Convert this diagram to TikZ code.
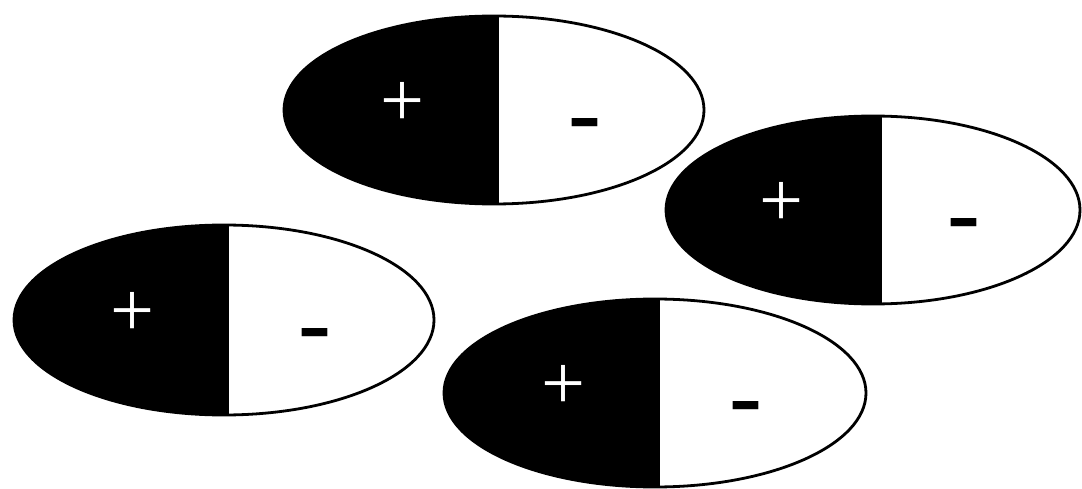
\documentclass[tikz,border=0pt]{standalone}
\usepackage{fontspec}
\newfontfamily\signfont{Liberation Sans}
\newfontfamily\plusfont{Liberation Serif}
\tikzset{
  rim/.style={draw=black, line width=2.8pt},
  plussign/.style={text=white, inner sep=0pt, font=\plusfont\fontsize{78}{78}\selectfont},
  minussign/.style={text=black, inner sep=0pt, font=\signfont\fontsize{105}{105}\selectfont},
}
\newcommand\halfegg[6]{%
  \begin{scope}
    \clip (#2,#3) ellipse [x radius=#4, y radius=#5];
    \fill[black] (#2-#4-5,#3-#5-5) rectangle (#6,#3+#5+5);
  \end{scope}
  \draw[rim] (#2,#3) ellipse [x radius=#4, y radius=#5];
  \node[plussign] (#1p) at (#2-92,#3-6) {+};
  \node[minussign] (#1m) at (#2+91,#3+25) {-};
}
\begin{document}
\begin{tikzpicture}[x=1pt,y=-1pt]
  \useasboundingbox (0,0) rectangle (1082,489);
  \halfegg{top}{494}{110}{210}{94}{499}
  \halfegg{right}{873}{210}{207}{94}{882}
  \halfegg{left}{224}{320}{210}{95}{229}
  \halfegg{bottom}{655}{393}{211}{94}{660}
\end{tikzpicture}
\end{document}
